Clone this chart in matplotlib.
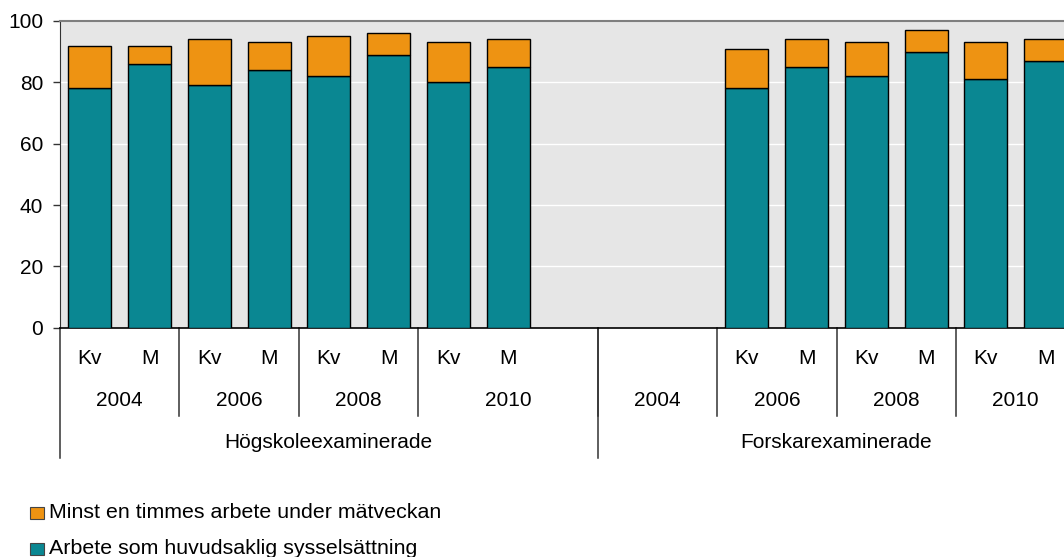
import numpy as np
import matplotlib
matplotlib.use("Agg")
import matplotlib.pyplot as plt
import matplotlib.transforms as mtransforms
from matplotlib.patches import Rectangle

plt.rcParams['font.family'] = ['Liberation Sans', 'DejaVu Sans']

# ---- data ----
sub_labels = ["Kv", "M", "Kv", "M", "Kv", "M", "Kv", "M", "",
              "", "", "Kv", "M", "Kv", "M", "Kv", "M"]
main_job = [78, 86, 79, 84, 82, 89, 80, 85, np.nan,
            np.nan, np.nan, 78, 85, 82, 90, 81, 87]
total = [92, 92, 94, 93, 95, 96, 93, 94, np.nan,
         np.nan, np.nan, 91, 94, 93, 97, 93, 94]
years = [("2004", 2), ("2006", 2), ("2008", 2), ("2010", 3),
         ("2004", 2), ("2006", 2), ("2008", 2), ("2010", 2)]
groups = [("Högskoleexaminerade", 9), ("Forskarexaminerade", 8)]
series_names = ["Minst en timmes arbete under mätveckan",
                "Arbete som huvudsaklig sysselsättning"]
yticks = [0, 20, 40, 60, 80, 100]

teal = "#0A8792"
orange = "#EE9312"

W, H = 1064, 557
fig = plt.figure(figsize=(W / 100, H / 100), dpi=100)
left_px, right_px, top_px, bot_px = 60, 1075.5, 21, 327.7
ax = fig.add_axes([left_px / W, (H - bot_px) / H,
                   (right_px - left_px) / W, (bot_px - top_px) / H])
ax.set_facecolor("#E6E6E6")

n = len(sub_labels)
x = np.arange(n) + 0.5
mj = np.array(main_job, float)
tot = np.array(total, float)
extra = tot - mj
bw = 0.72
ax.bar(x, mj, width=bw, color=teal, edgecolor="black", linewidth=1.0, zorder=3)
ax.bar(x, extra, bottom=mj, width=bw, color=orange, edgecolor="black",
       linewidth=1.0, zorder=3)

ax.set_xlim(0, n)
ax.set_ylim(0, 100)
ax.set_yticks(yticks)
ax.set_yticklabels([str(t) for t in yticks], fontsize=15)
for t in yticks[1:-1]:
    ax.axhline(t, color="white", linewidth=1.0, zorder=1)
ax.tick_params(axis='y', length=5, width=1, color="#333333", pad=7)
ax.tick_params(axis='x', bottom=False, labelbottom=False)
ax.spines["right"].set_visible(False)
ax.spines["top"].set_color("#7F7F7F")
ax.spines["top"].set_linewidth(1.5)
ax.spines["left"].set_color("#333333")
ax.spines["bottom"].set_color("black")
ax.spines["bottom"].set_linewidth(1.2)

trans = mtransforms.blended_transform_factory(ax.transData, fig.transFigure)
fy = lambda py: (H - py) / H

# sub labels
for xi, lab in zip(x, sub_labels):
    if lab:
        ax.text(xi, fy(358), lab, transform=trans, ha="center", va="center",
                fontsize=15)

# year labels and dividers
pos = 0
for yr, cnt in years:
    ax.text(pos + cnt / 2, fy(401), yr, transform=trans, ha="center",
            va="center", fontsize=15)
    pos += cnt
    ax.plot([pos, pos], [fy(bot_px), fy(415.7)], transform=trans,
            color="#333333", linewidth=1.1, clip_on=False)

# group labels and dividers
pos = 0
ax.plot([0, 0], [fy(bot_px), fy(458)], transform=trans,
        color="#333333", linewidth=1.1, clip_on=False)
for g, cnt in groups:
    ax.text(pos + cnt / 2, fy(443), g, transform=trans, ha="center",
            va="center", fontsize=15)
    pos += cnt
    ax.plot([pos, pos], [fy(bot_px), fy(458)], transform=trans,
            color="#333333", linewidth=1.1, clip_on=False)

# legend
for (name, col, cy) in [(series_names[0], orange, 512.5),
                        (series_names[1], teal, 548.5)]:
    fig.patches.append(Rectangle((30 / W, fy(cy + 6)), 14 / W, 12 / H,
                                 transform=fig.transFigure, facecolor=col,
                                 edgecolor="#444444", linewidth=0.8))
    fig.text(49 / W, fy(cy), name, ha="left", va="center", fontsize=15.4)

fig.savefig("out.png", dpi=100)
